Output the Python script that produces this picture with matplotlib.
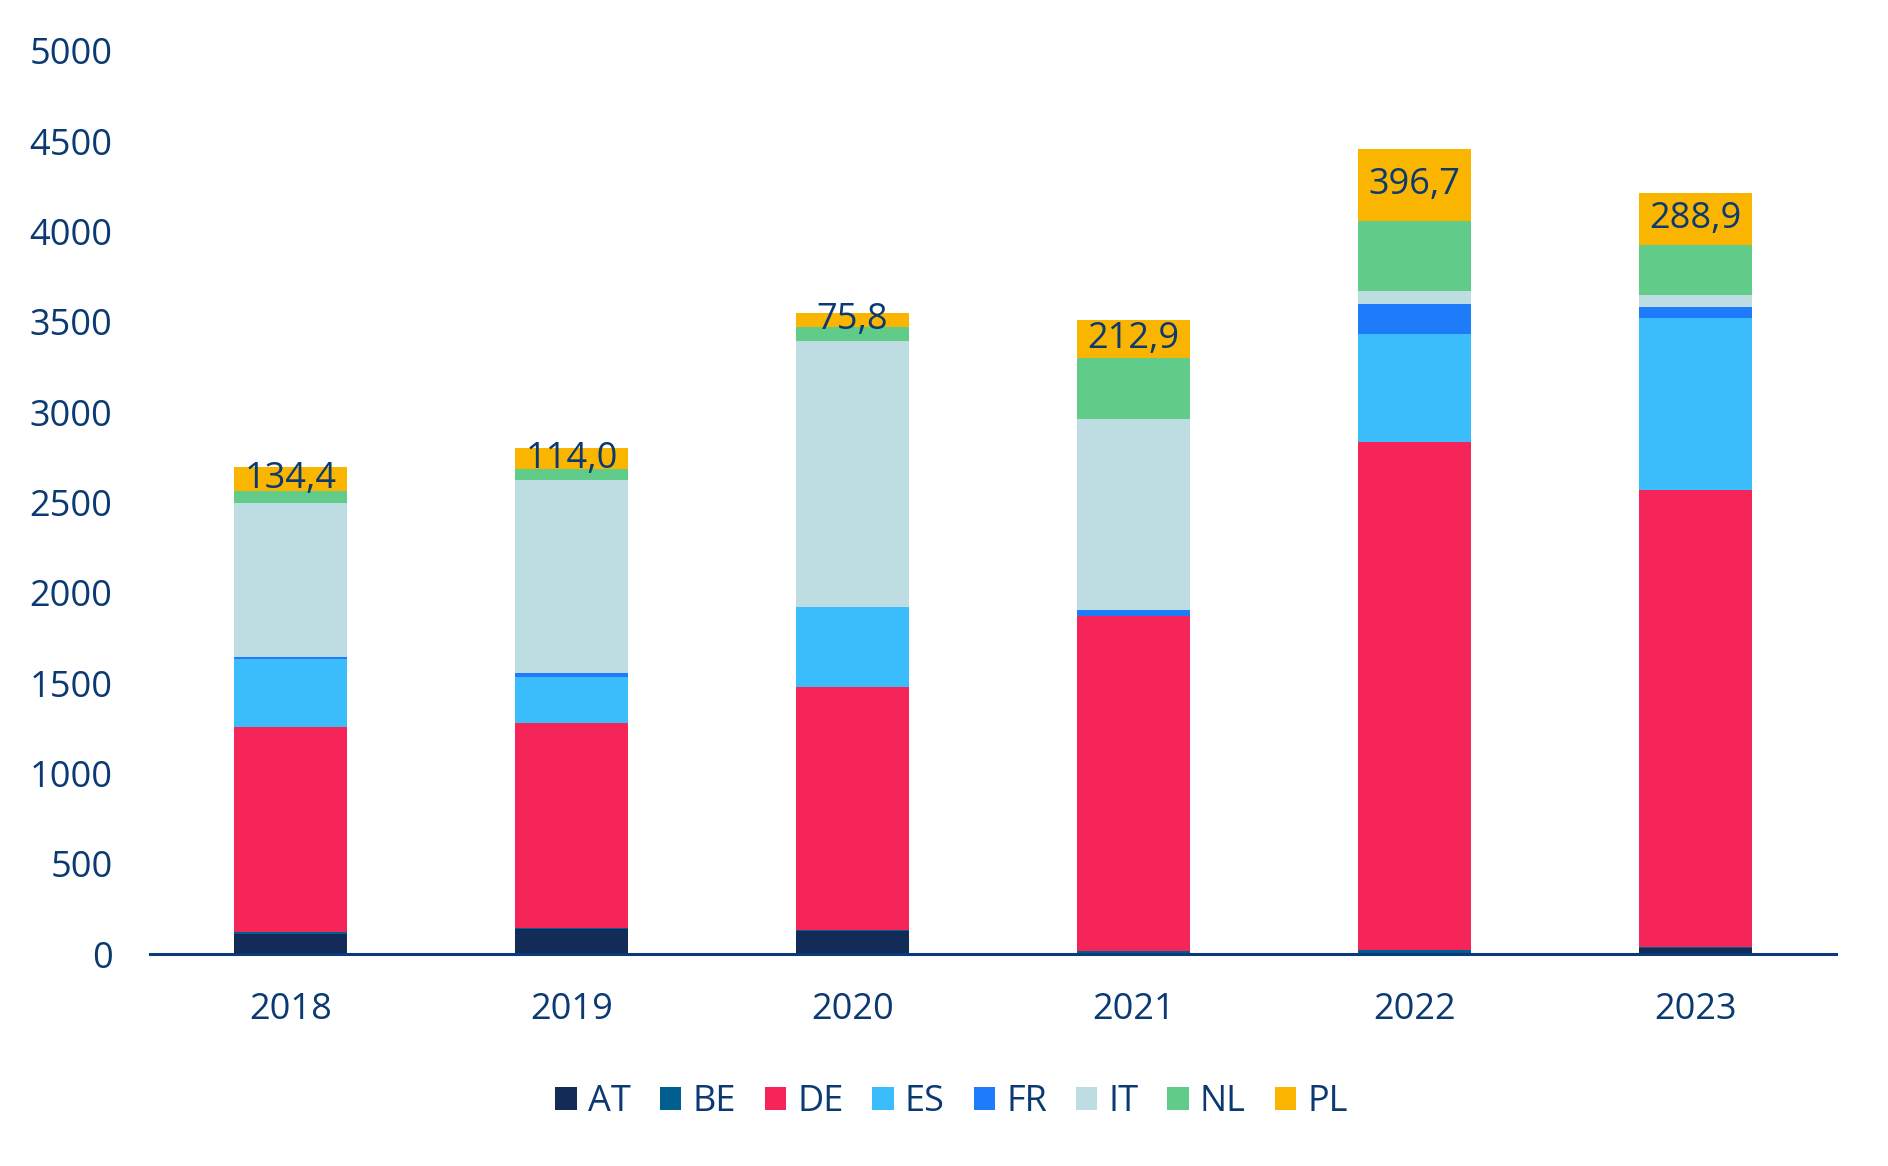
import numpy as np
import matplotlib.pyplot as plt

years = ['2018', '2019', '2020', '2021', '2022', '2023']
countries = ['AT', 'BE', 'DE', 'ES', 'FR', 'IT', 'NL', 'PL']

at = [109, 138, 125, 8, 8, 36]
be = [15, 5, 8, 7, 16, 3]
de = [1133, 1138, 1343, 1857, 2809, 2528]
es = [375, 254, 447, 0, 602, 954]
fr = [13, 19, 0, 33, 166, 63]
it = [854, 1071, 1471, 1059, 70, 65]
nl = [64, 60, 79, 334, 389, 276]
pl = [134.4, 114.0, 75.8, 212.9, 396.7, 288.9]

colors = ['#132c57', '#005f8f', '#f5255a', '#3bbdfc', '#1e7bf9', '#bedde3', '#61cc8a', '#f9b500']
txt = '#0b3a73'

plt.rcParams['font.family'] = ['Open Sans', 'DejaVu Sans']

fig = plt.figure(figsize=(18.88, 11.66), dpi=100)
ax = fig.add_axes([0.0794, 0.1818, 0.8931, 0.7745])

x = np.arange(len(years))
bottom = np.zeros(len(years))
series = [at, be, de, es, fr, it, nl, pl]
for name, vals, c in zip(countries, series, colors):
    bars = ax.bar(x, vals, 0.4, bottom=bottom, color=c, label=name)
    bottom += np.array(vals)

# etiquetas del segmento PL
labels = [f'{v:.1f}'.replace('.', ',') for v in pl]
ax.bar_label(bars, labels=labels, label_type='center', fontsize=26, color=txt)

ax.set_xlim(-0.5, 5.5)
ax.set_ylim(0, 5000)
ax.set_yticks(range(0, 5001, 500))
ax.set_xticks(x)
ax.set_xticklabels(years)
ax.tick_params(axis='both', length=0, labelsize=26, labelcolor=txt)
ax.tick_params(axis='y', pad=27)
ax.tick_params(axis='x', pad=27)

for s in ['top', 'right', 'left']:
    ax.spines[s].set_visible(False)
ax.spines['bottom'].set_color('#0b3a78')
ax.spines['bottom'].set_linewidth(2.2)

fig.legend(loc='center', bbox_to_anchor=(0.504, 0.0545), ncol=8, frameon=False,
           fontsize=26, labelcolor=txt, handlelength=0.6, handleheight=0.6,
           handletextpad=0.3, columnspacing=0.8)

plt.savefig('out.png', dpi=100)
